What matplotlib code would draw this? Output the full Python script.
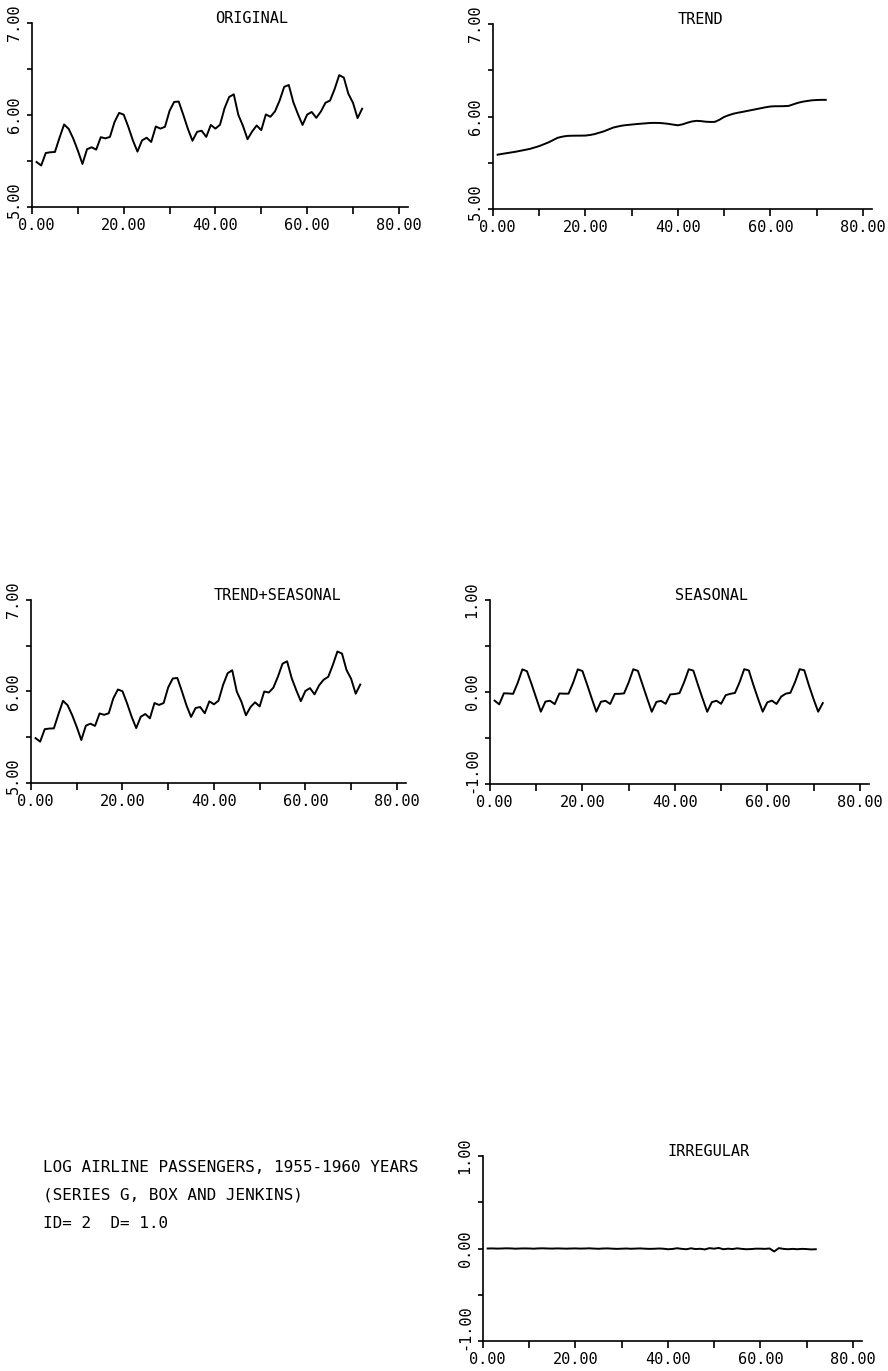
import matplotlib
matplotlib.use("Agg")
import matplotlib.pyplot as plt
import numpy as np

# log airline passengers 1955-1960 (Box & Jenkins series G)
months = list(range(1, 73))

original = [5.489, 5.451, 5.587, 5.595, 5.598, 5.753, 5.897, 5.849, 5.743, 5.613, 5.468, 5.628,
            5.649, 5.624, 5.759, 5.746, 5.762, 5.924, 6.023, 6.004, 5.872, 5.724, 5.602, 5.724,
            5.753, 5.707, 5.875, 5.852, 5.872, 6.045, 6.142, 6.146, 6.001, 5.849, 5.720, 5.817,
            5.829, 5.762, 5.892, 5.852, 5.894, 6.075, 6.196, 6.225, 6.001, 5.883, 5.737, 5.820,
            5.886, 5.835, 6.006, 5.981, 6.040, 6.157, 6.306, 6.326, 6.138, 6.009, 5.892, 6.004,
            6.033, 5.969, 6.038, 6.133, 6.157, 6.282, 6.433, 6.407, 6.230, 6.133, 5.966, 6.068]

trend = [5.587, 5.596, 5.604, 5.612, 5.620, 5.630, 5.640, 5.650, 5.665, 5.680, 5.700, 5.720,
         5.745, 5.770, 5.782, 5.790, 5.792, 5.793, 5.793, 5.794, 5.800, 5.810, 5.825, 5.840,
         5.860, 5.880, 5.892, 5.902, 5.908, 5.913, 5.918, 5.922, 5.926, 5.930, 5.931, 5.930,
         5.926, 5.920, 5.912, 5.905, 5.915, 5.932, 5.946, 5.953, 5.950, 5.944, 5.941, 5.942,
         5.965, 5.995, 6.014, 6.030, 6.041, 6.050, 6.060, 6.070, 6.080, 6.090, 6.100, 6.108,
         6.111, 6.111, 6.112, 6.115, 6.132, 6.148, 6.160, 6.168, 6.175, 6.178, 6.180, 6.180]

trend_seasonal = [5.490, 5.452, 5.588, 5.595, 5.597, 5.752, 5.898, 5.850, 5.742, 5.613, 5.470, 5.627,
                  5.648, 5.624, 5.760, 5.745, 5.762, 5.925, 6.022, 6.003, 5.872, 5.725, 5.600, 5.724,
                  5.754, 5.707, 5.874, 5.853, 5.874, 6.045, 6.142, 6.148, 6.002, 5.848, 5.722, 5.820,
                  5.830, 5.762, 5.893, 5.860, 5.899, 6.072, 6.200, 6.232, 5.999, 5.889, 5.740, 5.830,
                  5.882, 5.837, 6.000, 5.989, 6.042, 6.163, 6.304, 6.330, 6.146, 6.015, 5.894, 6.006,
                  6.037, 5.969, 6.068, 6.129, 6.161, 6.290, 6.437, 6.415, 6.234, 6.139, 5.976, 6.076]

seasonal = [-0.094, -0.134, -0.014, -0.016, -0.020, 0.100, 0.246, 0.226, 0.085, -0.065, -0.214, -0.104,
            -0.095, -0.132, -0.016, -0.018, -0.018, 0.102, 0.246, 0.228, 0.083, -0.068, -0.214, -0.106,
            -0.096, -0.130, -0.020, -0.020, -0.015, 0.104, 0.247, 0.230, 0.080, -0.070, -0.215, -0.108,
            -0.096, -0.128, -0.026, -0.022, -0.012, 0.106, 0.247, 0.232, 0.077, -0.072, -0.215, -0.110,
            -0.095, -0.128, -0.034, -0.020, -0.010, 0.106, 0.248, 0.234, 0.074, -0.074, -0.214, -0.112,
            -0.094, -0.130, -0.050, -0.018, -0.008, 0.108, 0.248, 0.236, 0.072, -0.076, -0.214, -0.120]

irregular = [0.000, 0.001, -0.001, 0.000, 0.002, 0.001, -0.002, 0.000, 0.001, 0.000,
             -0.002, 0.001, 0.002, 0.000, -0.001, 0.001, 0.000, -0.002, 0.000, 0.001,
             -0.001, 0.000, 0.002, -0.001, -0.003, 0.000, 0.001, -0.002, -0.004, -0.002,
             0.000, -0.003, -0.001, 0.001, -0.002, -0.004, -0.003, 0.000, -0.002, -0.008,
             -0.005, 0.003, -0.004, -0.008, 0.002, -0.006, -0.003, -0.010, 0.004, -0.002,
             0.006, -0.008, -0.002, -0.006, 0.002, -0.004, -0.008, -0.006, -0.002, -0.002,
             -0.004, 0.000, -0.032, 0.004, -0.004, -0.008, -0.004, -0.008, -0.004, -0.006,
             -0.010, -0.008]

x_major = [0, 20, 40, 60, 80]
x_minor = [10, 30, 50, 70]
info_lines = ["LOG AIRLINE PASSENGERS, 1955-1960 YEARS",
              "(SERIES G, BOX AND JENKINS)",
              "ID= 2  D= 1.0"]

FONT = "DejaVu Sans Mono"
FS = 11
W, H = 888, 1371
XTICK, XPAD = 5, 3
YTICK, YPAD = 3.5, 4


def px_axes(fig, left, right, top, bottom):
    # axes box given in pixel coords of the reference
    return fig.add_axes([left / W, (H - bottom) / H, (right - left) / W, (bottom - top) / H])


def panel(ax, x, y, title, ylim, yticks, yminor, low_shift):
    ax.plot(x, y, color="black", lw=1.4)
    ax.set_xlim(0, 82)
    ax.set_ylim(*ylim)
    for s in ("top", "right"):
        ax.spines[s].set_visible(False)
    for s in ("left", "bottom"):
        ax.spines[s].set_linewidth(1.2)

    # first x label and lowest y label are nudged like the plotter did
    ax.set_xticks(x_major)
    ax.set_xticks(x_minor, minor=True)
    ax.set_xticklabels([""] + ["%.2f" % v for v in x_major[1:]], fontfamily=FONT, fontsize=FS)
    ax.annotate("%.2f" % x_major[0], xy=(x_major[0], 0), xycoords=("data", "axes fraction"),
                xytext=(3, -(XTICK + XPAD)), textcoords="offset points",
                ha="center", va="top", fontfamily=FONT, fontsize=FS, annotation_clip=False)

    ax.set_yticks(yticks)
    ax.set_yticks(yminor, minor=True)
    ax.set_yticklabels([""] + ["%.2f" % v for v in yticks[1:]], fontfamily=FONT, fontsize=FS,
                       rotation=90, va="center")
    ax.annotate("%.2f" % yticks[0], xy=(0, yticks[0]), xycoords=("axes fraction", "data"),
                xytext=(-(YTICK + YPAD), low_shift), textcoords="offset points",
                ha="right", va="center", rotation=90, fontfamily=FONT, fontsize=FS,
                annotation_clip=False)

    ax.tick_params(axis="x", which="both", direction="out", length=XTICK, width=1.2, pad=XPAD)
    ax.tick_params(axis="y", which="both", direction="out", length=YTICK, width=1.2, pad=YPAD)
    ax.text(40, ylim[1], title, fontfamily=FONT, fontsize=FS, ha="left", va="baseline",
            clip_on=False)


fig = plt.figure(figsize=(W / 100, H / 100), dpi=100)
fig.patch.set_facecolor("white")

ax1 = px_axes(fig, 32, 408, 23, 207)
panel(ax1, months, original, "ORIGINAL", (5.0, 7.0), [5, 6, 7], [5.5, 6.5], 5)

ax2 = px_axes(fig, 493, 872, 24, 209)
panel(ax2, months, trend, "TREND", (5.0, 7.0), [5, 6, 7], [5.5, 6.5], 5)

ax3 = px_axes(fig, 31, 406, 600, 783)
panel(ax3, months, trend_seasonal, "TREND+SEASONAL", (5.0, 7.0), [5, 6, 7], [5.5, 6.5], 5)

ax4 = px_axes(fig, 490, 869, 600, 784)
panel(ax4, months, seasonal, "SEASONAL", (-1.0, 1.0), [-1, 0, 1], [-0.5, 0.5], 10)

ax5 = px_axes(fig, 483, 862, 1156, 1341)
panel(ax5, months, irregular, "IRREGULAR", (-1.0, 1.0), [-1, 0, 1], [-0.5, 0.5], 10)

for i, line in enumerate(info_lines):
    fig.text(43 / W, (H - 1167 - 28 * i) / H, line, fontfamily=FONT, fontsize=11.5,
             ha="left", va="center")

fig.savefig("out.png", dpi=100)
plt.close(fig)
